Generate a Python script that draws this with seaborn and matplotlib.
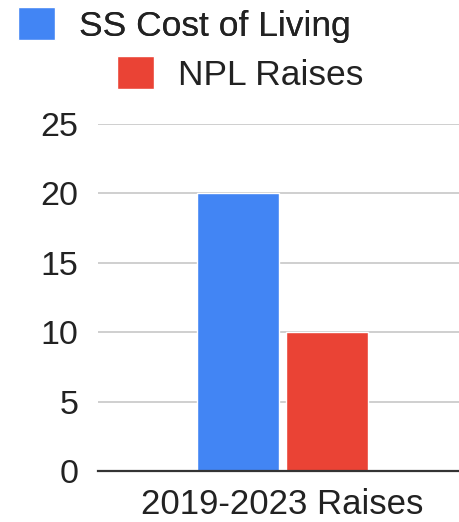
import numpy as np
import pandas as pd
import matplotlib
matplotlib.use("Agg")
import matplotlib.pyplot as plt
import seaborn as sns

# data
categories = ["2019-2023 Raises"]
series = ["SS Cost of Living", "NPL Raises"]
values = [20, 10]
colors = ["#4285F4", "#EA4335"]
yticks = [0, 5, 10, 15, 20, 25]

df = pd.DataFrame({"cat": categories * len(series), "series": series, "value": values})

sns.set_style("white")
plt.rcParams["font.family"] = ["Liberation Sans", "DejaVu Sans"]

fs = 25.5
fig = plt.figure(figsize=(4.6, 5.22), dpi=100)
ax = fig.add_axes([0.213, 0.0977, 0.787, 0.665])

sns.barplot(data=df, x="cat", y="value", hue="series", palette=colors,
            width=0.49, gap=0.08, ax=ax, legend=True, saturation=1)

ax.set_ylim(0, 25)
ax.set_xlim(-0.51, 0.49)
ax.set_yticks(yticks)
ax.set_xlabel("")
ax.set_ylabel("")
ax.tick_params(axis="y", labelsize=24.5, length=0, pad=14, colors="#222222")
ax.tick_params(axis="x", labelsize=25, length=0, pad=12, colors="#222222")
ax.grid(axis="y", color="#cccccc", linewidth=1.3)
ax.set_axisbelow(True)
for side in ["top", "right", "left"]:
    ax.spines[side].set_visible(False)
ax.spines["bottom"].set_color("#333333")
ax.spines["bottom"].set_linewidth(1.6)

handles, labels = ax.get_legend_handles_labels()
ax.get_legend().remove()

leg_kw = dict(loc="upper left", frameon=False, fontsize=fs, handlelength=1.05,
              handleheight=1.05, handletextpad=0.68, borderaxespad=0, borderpad=0,
              labelcolor="#222222")
leg1 = fig.legend([handles[0]], [labels[0]], bbox_to_anchor=(18 / 460, 1 - 7 / 522), **leg_kw)
fig.add_artist(leg1)
fig.legend([handles[1]], [labels[1]], bbox_to_anchor=(117 / 460, 1 - 56 / 522), **leg_kw)

fig.savefig("out.png", dpi=100)
